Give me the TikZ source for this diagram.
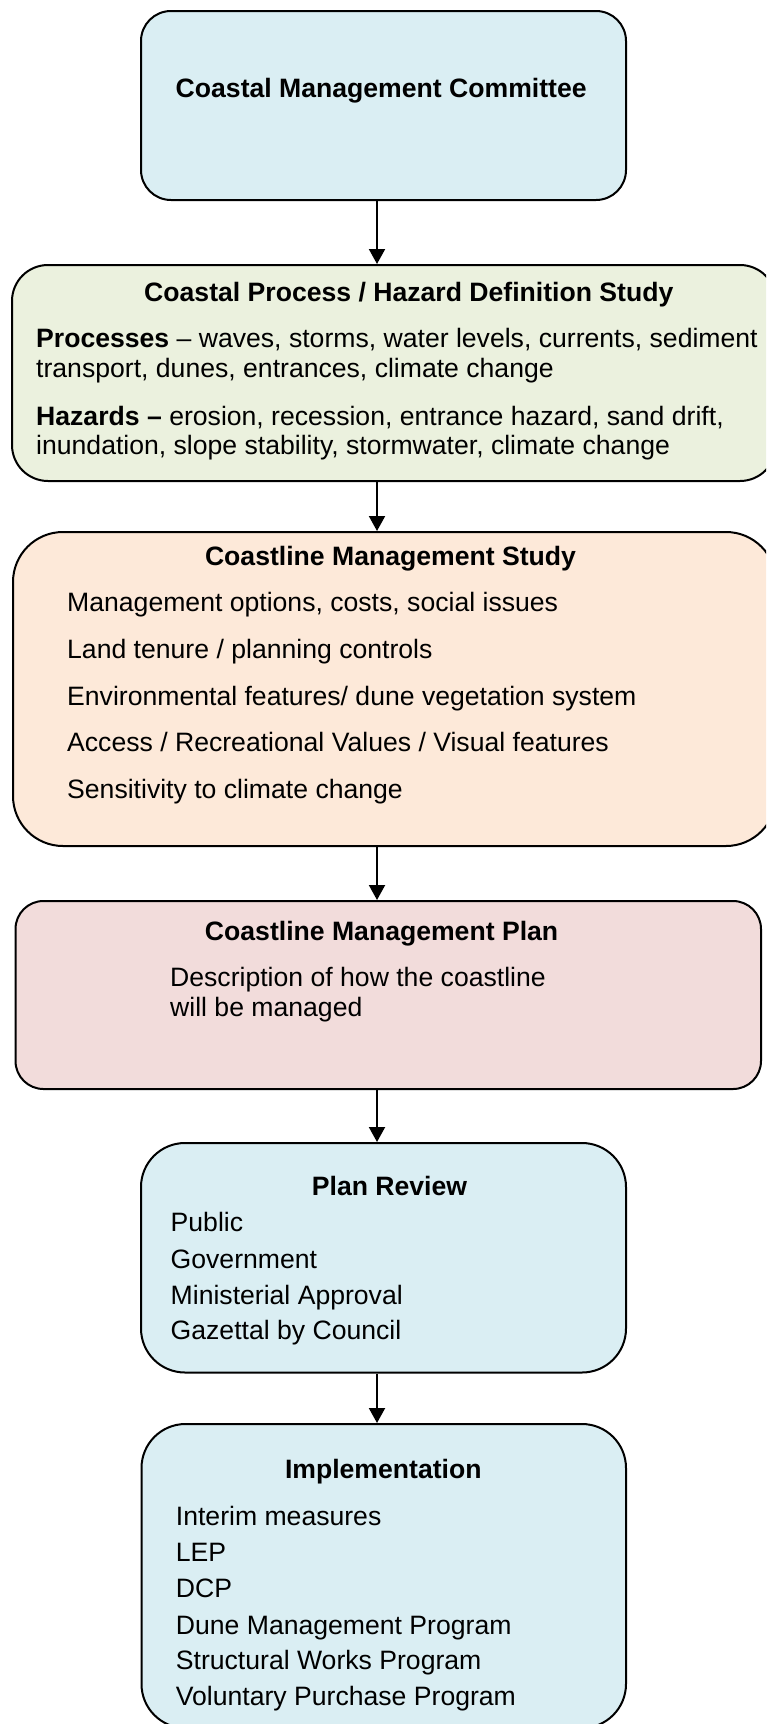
\documentclass[tikz,border=0pt]{standalone}
\usepackage{fontspec}
\setmainfont{Liberation Sans}
\usetikzlibrary{arrows.meta}
\definecolor{cblue}{HTML}{DAEEF3}
\definecolor{cgreen}{HTML}{EBF1DE}
\definecolor{corange}{HTML}{FDE9D9}
\definecolor{cpink}{HTML}{F2DCDB}
\tikzset{
  box/.style={draw=black, line width=2pt, inner sep=0pt, rectangle},
  txt/.style={inner sep=0pt, anchor=base west, font=\fontsize{26.6pt}{32pt}\selectfont},
  ttl/.style={inner sep=0pt, anchor=base, font=\fontsize{26.6pt}{32pt}\selectfont\bfseries},
  arr/.style={line width=2pt, -{Triangle[width=16pt,length=15pt]}}
}
\begin{document}
\begin{tikzpicture}[x=1pt,y=-1pt]
\useasboundingbox (0,0) rectangle (766,1724);
\clip (0,0) rectangle (766,1724);

% boxes
\node[box, fill=cblue, rounded corners=30pt, minimum width=485pt, minimum height=189pt] (cmc) at (383.5,105.5) {};
\node[box, fill=cgreen, rounded corners=36pt, minimum width=764pt, minimum height=216pt] (cpd) at (394,373) {};
\node[box, fill=corange, rounded corners=50pt, minimum width=763pt, minimum height=314pt] (cms) at (394.5,689) {};
\node[box, fill=cpink, rounded corners=28pt, minimum width=745.5pt, minimum height=188pt] (cmp) at (388.25,995) {};
\node[box, fill=cblue, rounded corners=44pt, minimum width=485pt, minimum height=229.5pt] (pr) at (383.5,1257.75) {};
\node[box, fill=cblue, rounded corners=44pt, minimum width=484.5pt, minimum height=304pt] (impl) at (383.75,1576) {};

% connectors
\coordinate (ax) at (377,0);
\draw[arr] (ax |- cmc.south) -- (ax |- cpd.north);
\draw[arr] (ax |- cpd.south) -- (ax |- cms.north);
\draw[arr] (ax |- cms.south) -- (ax |- cmp.north);
\draw[arr] (ax |- cmp.south) -- (ax |- pr.north);
\draw[arr] (ax |- pr.south) -- (ax |- impl.north);

% committee
\node[ttl] (cmcT) at (381.2,97.3) {Coastal Management Committee};

% process / hazard study
\node[ttl] (cpdT) at (408.8,301.7) {Coastal Process / Hazard Definition Study};
\node[txt] (cpd1) at (36,347.7) {\textbf{Processes} – waves, storms, water levels, currents, sediment};
\node[txt] (cpd2) at (36,377.7) {transport, dunes, entrances, climate change};
\node[txt] (cpd3) at (36,425.3) {\textbf{Hazards –} erosion, recession, entrance hazard, sand drift,};
\node[txt] (cpd4) at (36,454.5) {inundation, slope stability, stormwater, climate change};

% management study
\node[ttl] (cmsT) at (390.5,565.7) {Coastline Management Study};
\node[txt] (cms1) at (67,611.7) {Management options, costs, social issues};
\node[txt] (cms2) at (67,658.3) {Land tenure / planning controls};
\node[txt] (cms3) at (67,705) {Environmental features/ dune vegetation system};
\node[txt] (cms4) at (67,751.7) {Access / Recreational Values / Visual features};
\node[txt] (cms5) at (67,798.3) {Sensitivity to climate change};

% management plan
\node[ttl] (cmpT) at (381.6,940) {Coastline Management Plan};
\node[txt] (cmp1) at (170,986.7) {Description of how the coastline};
\node[txt] (cmp2) at (170,1016) {will be managed};

% plan review
\node[ttl] (prT) at (389.5,1195.7) {Plan Review};
\node[txt] (pr1) at (170.5,1231.7) {Public};
\node[txt] (pr2) at (170.5,1268.3) {Government};
\node[txt] (pr3) at (170.5,1304) {Ministerial Approval};
\node[txt] (pr4) at (170.5,1339.5) {Gazettal by Council};

% implementation
\node[ttl] (implT) at (383.3,1478.3) {Implementation};
\node[txt] (im1) at (175.7,1525) {Interim measures};
\node[txt] (im2) at (175.7,1561.3) {LEP};
\node[txt] (im3) at (175.7,1597.3) {DCP};
\node[txt] (im4) at (175.7,1634) {Dune Management Program};
\node[txt] (im5) at (175.7,1669.7) {Structural Works Program};
\node[txt] (im6) at (175.7,1705.7) {Voluntary Purchase Program};
\end{tikzpicture}
\end{document}
